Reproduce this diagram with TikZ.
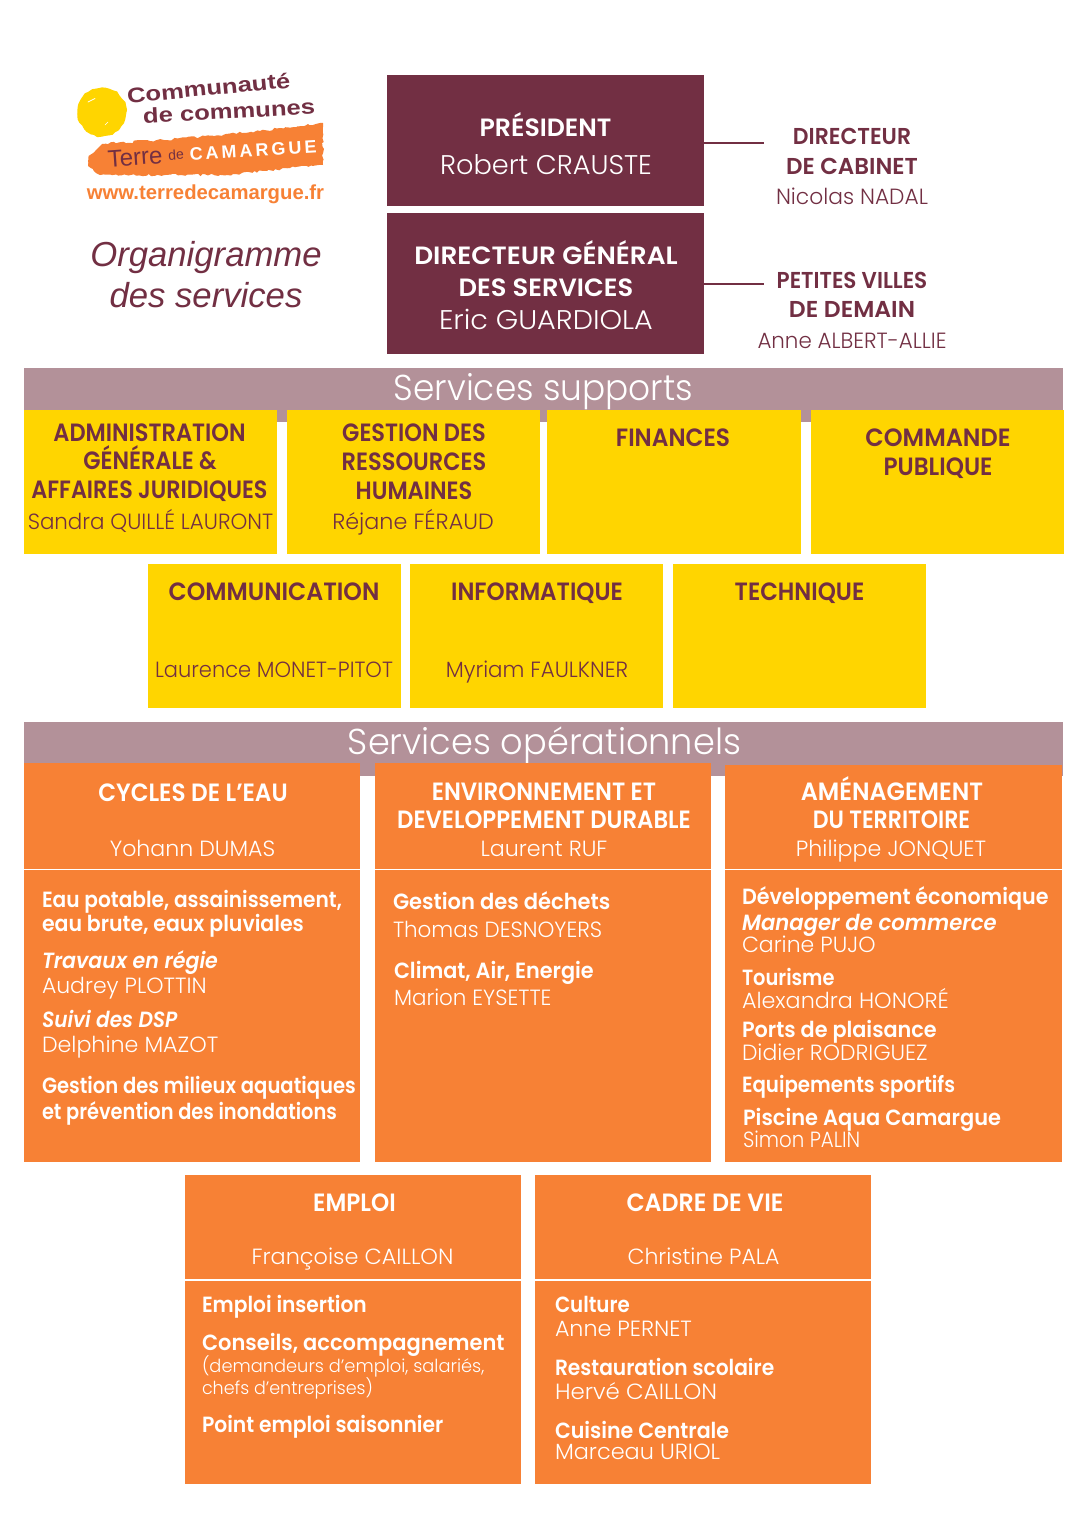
\documentclass[tikz,border=0pt]{standalone}
\usepackage{fontspec}
\usetikzlibrary{decorations.pathmorphing}
\setmainfont{Poppins}
\newfontfamily\fb{Poppins SemiBold}
\newfontfamily\fl{Poppins Light}
\newfontfamily\fbi{Poppins SemiBold Italic}
\newfontfamily\fa{Liberation Sans}
\definecolor{maroon}{HTML}{722F43}
\definecolor{sunyellow}{HTML}{FFD500}
\definecolor{orangebox}{HTML}{F78135}
\definecolor{barmauve}{HTML}{B39199}
\newcommand\sz[1]{\fontsize{#1}{#1}\selectfont}
\tikzset{
 every node/.style={inner sep=0pt,outer sep=0pt},
 txt/.style={anchor=base,transform shape,xscale=0.9},
 lf/.style={txt,anchor=base west},
 hd/.style={font=\fb\sz{25}},
 nm/.style={font=\fl\sz{22},yshift=.7pt},
 bd/.style={font=\fb\sz{22}},
 it/.style={font=\fbi\sz{22}},
 mr/.style={text=maroon},
 wh/.style={text=white},
 sx/.style={xscale=#1},
 panel/.style={fill=#1,draw=none},
 conn/.style={draw=maroon,line width=1.5pt},
 divide/.style={draw=white,line width=1.6pt},
 logotxt/.style={transform shape,xscale=1.2,draw=maroon,line width=.25pt,text=maroon,font=\fa\bfseries\sz{21}}
}
\begin{document}
\begin{tikzpicture}[x=1pt,y=-1pt]
\useasboundingbox (0,0) rectangle (1086,1536);
\fill[white] (0,0) rectangle (1086,1536);
% logo
\fill[sunyellow,decorate,decoration={random steps,segment length=4pt,amplitude=.8pt}] (102,112) circle (24.5);
\draw[white,line width=.7pt,line cap=round] (88,102) -- (95,98.5);
\draw[white,line width=.7pt,line cap=round] (105,125) -- (108,122);
\fill[orangebox,decorate,decoration={random steps,segment length=3pt,amplitude=1.3pt}] (88,166) -- (90,155) -- (102,144) -- (200,137) -- (260,131) -- (323,123) -- (323,165) -- (290,168) -- (227,175) -- (100,175) -- cycle;
\node[rotate=5.5,transform shape,xscale=1.22,font=\fa\bfseries\sz{21},text=maroon] (logoA) at (208.5,88) {Communauté};
\node[rotate=3,transform shape,xscale=1.22,font=\fa\bfseries\sz{21},text=maroon] (logoB) at (229,111) {de communes};
\node[rotate=4,font=\fa\sz{24},text=maroon] (logoC) at (135,157) {Terre};
\node[rotate=4,font=\fa\sz{14},text=maroon] (logoD) at (176,155) {de};
\node[rotate=3.5,font=\fa\bfseries\sz{18},text=white] (logoE) at (253,150) {C\,A\,M\,A\,R\,G\,U\,E};
\node[font=\fa\bfseries\sz{20.3},text=orangebox] (logoF) at (205.5,194) {www.terredecamargue.fr};
\node[anchor=base,font=\fa\itshape\sz{34.7},text=maroon] (ttlA) at (206,266) {Organigramme};
\node[anchor=base,font=\fa\itshape\sz{34.7},text=maroon] (ttlB) at (206,307) {des services};
% top boxes
\path[panel=maroon] (387,75) rectangle (704,206);
\path[panel=maroon] (387,213) rectangle (704,354);
\node[txt,hd,wh,sx=1.12] (pres) at (545.5,136) {PRÉSIDENT};
\node[txt,wh,font=\fl\sz{27},sx=1.12] (presn) at (546,175) {Robert CRAUSTE};
\node[txt,hd,wh,sx=1.17] (dga) at (546,264) {DIRECTEUR GÉNÉRAL};
\node[txt,hd,wh,sx=1.145] (dgb) at (546,296) {DES SERVICES};
\node[txt,wh,font=\fl\sz{27},sx=1.18] (dgn) at (546,329) {Eric GUARDIOLA};
\coordinate (pr) at (704,143); \coordinate (prE) at (764,143);
\coordinate (dr) at (704,284); \coordinate (drE) at (764,284);
\draw[conn] (pr) -- (prE);
\draw[conn] (dr) -- (drE);
\node[txt,mr,font=\fb\sz{23},sx=1.06] (caba) at (852,145) {DIRECTEUR};
\node[txt,mr,font=\fb\sz{23},sx=1.11] (cabb) at (852,174) {DE CABINET};
\node[txt,mr,nm,sx=1.10] (cabn) at (852,205) {Nicolas NADAL};
\node[txt,mr,font=\fb\sz{23},sx=1.04] (pva) at (852,288) {PETITES VILLES};
\node[txt,mr,font=\fb\sz{23},sx=1.135] (pvb) at (852,317) {DE DEMAIN};
\node[txt,mr,nm,sx=1.08] (pvn) at (852,349) {Anne ALBERT-ALLIE};
% supports
\path[panel=barmauve] (24,368) rectangle (1063,422);
\node[txt,wh,font=\fl\sz{36},sx=1.06] (sup) at (543.5,400) {Services supports};
\foreach \a/\b in {24/277,287/540,547/800.5,811/1064}{\path[panel=sunyellow] (\a,410) rectangle (\b,554);}
\foreach \a/\b in {148/401,410/663,673/926}{\path[panel=sunyellow] (\a,564) rectangle (\b,708);}
\node[txt,mr,hd] (adma) at (149.5,441) {ADMINISTRATION};
\node[txt,mr,hd] (admb) at (150,469) {GÉNÉRALE \&};
\node[txt,mr,hd,sx=.99] (admc) at (149.5,498) {AFFAIRES JURIDIQUES};
\node[txt,mr,nm,sx=1.08] (admn) at (150.5,530) {Sandra QUILLÉ LAURONT};
\node[txt,mr,hd] (rha) at (414,441) {GESTION DES};
\node[txt,mr,hd] (rhb) at (414,470) {RESSOURCES};
\node[txt,mr,hd] (rhc) at (414,499) {HUMAINES};
\node[txt,mr,nm,sx=1.125] (rhn) at (413,530) {Réjane FÉRAUD};
\node[txt,mr,hd,sx=1.035] (fin) at (673,446) {FINANCES};
\node[txt,mr,hd,sx=1.066] (cpa) at (938,446) {COMMANDE};
\node[txt,mr,hd,sx=1.03] (cpb) at (938,475) {PUBLIQUE};
\node[txt,mr,hd,sx=1.05] (com) at (274,600) {COMMUNICATION};
\node[txt,mr,nm,sx=1.06] (comn) at (274,678) {Laurence MONET-PITOT};
\node[txt,mr,hd,sx=1.024] (inf) at (537,600) {INFORMATIQUE};
\node[txt,mr,nm,sx=1.08] (infn) at (537,678) {Myriam FAULKNER};
\node[txt,mr,hd,sx=1.024] (tec) at (799.5,600) {TECHNIQUE};
% operationnels
\path[panel=barmauve] (24,722) rectangle (1063,776);
\node[txt,wh,font=\fl\sz{36},sx=1.085] (ope) at (544.5,754) {Services opérationnels};
\path[panel=orangebox] (24,763) rectangle (360,1162);
\path[panel=orangebox] (375,763) rectangle (711,1162);
\path[panel=orangebox] (725,765) rectangle (1062,1162);
\path[panel=orangebox] (185,1175) rectangle (521,1484);
\path[panel=orangebox] (535,1175) rectangle (871,1484);
\coordinate (da1) at (24,869.5); \coordinate (da2) at (360,869.5);
\coordinate (db1) at (375,869.5); \coordinate (db2) at (711,869.5);
\coordinate (dc1) at (725,869.5); \coordinate (dc2) at (1062,869.5);
\coordinate (dd1) at (185,1280); \coordinate (dd2) at (521,1280);
\coordinate (de1) at (535,1280); \coordinate (de2) at (871,1280);
\draw[divide] (da1)--(da2);
\draw[divide] (db1)--(db2);
\draw[divide] (dc1)--(dc2);
\draw[divide] (dd1)--(dd2);
\draw[divide] (de1)--(de2);
% column 1
\node[txt,wh,hd,sx=1.03] (cy) at (193,801) {CYCLES DE L’EAU};
\node[txt,wh,nm,sx=1.115] (cyn) at (192.5,857) {Yohann DUMAS};
\node[lf,wh,bd,sx=1.017] (c1a) at (42,907) {Eau potable, assainissement,};
\node[lf,wh,bd,sx=1.035] (c1b) at (42,931) {eau brute, eaux pluviales};
\node[lf,wh,it,sx=1.04] (c1c) at (42,968) {Travaux en régie};
\node[lf,wh,nm,sx=1.11] (c1d) at (42,994) {Audrey PLOTTIN};
\node[lf,wh,it,sx=1.015] (c1e) at (42,1027) {Suivi des DSP};
\node[lf,wh,nm,sx=1.12] (c1f) at (42,1053) {Delphine MAZOT};
\node[lf,wh,bd,sx=.99] (c1g) at (42,1093) {Gestion des milieux aquatiques};
\node[lf,wh,bd,sx=.98] (c1h) at (42,1119) {et prévention des inondations};
% column 2
\node[txt,wh,hd,sx=1.02] (ena) at (544,800) {ENVIRONNEMENT ET};
\node[txt,wh,hd,sx=1.014] (enb) at (544,828) {DEVELOPPEMENT DURABLE};
\node[txt,wh,nm,sx=1.12] (enn) at (544,857) {Laurent RUF};
\node[lf,wh,bd,sx=1.064] (c2a) at (393,909) {Gestion des déchets};
\node[lf,wh,nm,sx=1.083] (c2b) at (393,938) {Thomas DESNOYERS};
\node[lf,wh,bd,sx=1.05] (c2c) at (394,978) {Climat, Air, Energie};
\node[lf,wh,nm,sx=1.083] (c2d) at (394,1006) {Marion EYSETTE};
% column 3
\node[txt,wh,hd,sx=1.06] (ama) at (892,800) {AMÉNAGEMENT};
\node[txt,wh,hd,sx=.98] (amb) at (891.5,828) {DU TERRITOIRE};
\node[txt,wh,nm,sx=1.12] (amn) at (891,857) {Philippe JONQUET};
\node[lf,wh,bd,sx=1.044] (c3a) at (742,904) {Développement économique};
\node[lf,wh,it,sx=1.07] (c3b) at (742,930) {Manager de commerce};
\node[lf,wh,nm,sx=1.11] (c3c) at (742,953) {Carine PUJO};
\node[lf,wh,bd,sx=.98] (c3d) at (742,985) {Tourisme};
\node[lf,wh,nm,sx=1.125] (c3e) at (742,1009) {Alexandra HONORÉ};
\node[lf,wh,bd,sx=1.05] (c3f) at (742,1037) {Ports de plaisance};
\node[lf,wh,nm,sx=1.108] (c3g) at (742,1061) {Didier RODRIGUEZ};
\node[lf,wh,bd] (c3h) at (742,1092) {Equipements sportifs};
\node[lf,wh,bd,sx=1.057] (c3i) at (743,1125) {Piscine Aqua Camargue};
\node[lf,wh,nm] (c3j) at (743,1148) {Simon PALIN};
% emploi
\node[txt,wh,hd,sx=1.03] (emp) at (354.5,1211) {EMPLOI};
\node[txt,wh,nm,sx=1.13] (empn) at (352.5,1265) {Françoise CAILLON};
\node[lf,wh,bd,sx=1.02] (e1) at (202,1312) {Emploi insertion};
\node[lf,wh,bd,sx=1.06] (e2) at (202,1350) {Conseils, accompagnement};
\node[lf,wh,font=\fl\sz{18},sx=1.1] (e3) at (202,1372) {(demandeurs d’emploi, salariés,};
\node[lf,wh,font=\fl\sz{18},sx=1.08] (e4) at (202,1394) {chefs d’entreprises)};
\node[lf,wh,bd,sx=1.025] (e5) at (202,1432) {Point emploi saisonnier};
% cadre
\node[txt,wh,hd,sx=1.054] (cad) at (705,1211) {CADRE DE VIE};
\node[txt,wh,nm,sx=1.11] (cadn) at (703.5,1265) {Christine PALA};
\node[lf,wh,bd] (v1) at (555,1312) {Culture};
\node[lf,wh,nm,sx=1.12] (v2) at (555,1337) {Anne PERNET};
\node[lf,wh,bd,sx=1.02] (v3) at (555,1375) {Restauration scolaire};
\node[lf,wh,nm,sx=1.157] (v4) at (555,1400) {Hervé CAILLON};
\node[lf,wh,bd,sx=1.04] (v5) at (555,1438) {Cuisine Centrale};
\node[lf,wh,nm,sx=1.13] (v6) at (555,1460) {Marceau URIOL};
\end{tikzpicture}
\end{document}
